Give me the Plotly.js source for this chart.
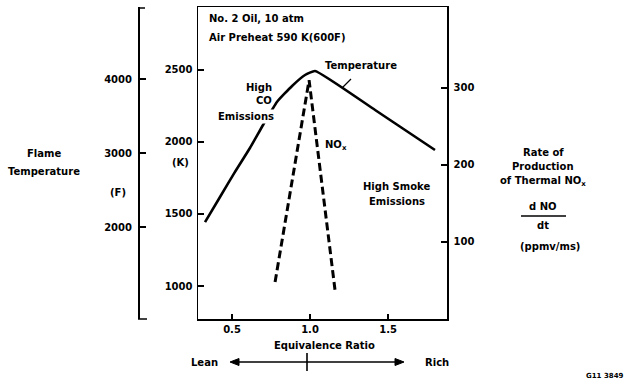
<!DOCTYPE html>
<html>
<head>
<meta charset="utf-8">
<script src="https://cdn.plot.ly/plotly-3.0.1.min.js"></script>
<style>html,body{margin:0;padding:0;background:#fff;}#chart{width:628px;height:380px;}</style>
</head>
<body>
<div id="chart"></div>
<script>
// ---- data ----
const phiTemp = [0.327, 0.423, 0.519, 0.615, 0.699, 0.788, 0.885, 0.968, 1.032, 1.417, 1.801];
const tempK   = [1444, 1618, 1792, 1958, 2118, 2278, 2389, 2465, 2493, 2222, 1944];
const phiNO   = [0.776, 0.994, 1.160];
const noRate  = [48, 310, 38];
const xTicks  = [0.5, 1.0, 1.5];
const xTickText = ['0.5', '1.0', '1.5'];
const kTicks  = [1000, 1500, 2000, 2500];
const fTicks  = [2000, 3000, 4000];
const rTicks  = [100, 200, 300];

// ---- layout helpers (pixel -> paper) ----
const L = 100, R = 447, T = 7, B = 319;
const px = v => (v - L) / (R - L);
const py = v => (B - v) / (B - T);
const FONT = {family: 'DejaVu Sans', size: 10, color: '#000', weight: 'bold'};

function txt(x, y, text, xanchor, extra) {
  return Object.assign({xref: 'paper', yref: 'paper', x: px(x), y: py(y), text: text,
    showarrow: false, xanchor: xanchor || 'center', yanchor: 'middle', font: FONT}, extra || {});
}
function ln(x0, y0, x1, y1, w) {
  return {type: 'line', xref: 'paper', yref: 'paper', x0: px(x0), y0: py(y0), x1: px(x1), y1: py(y1),
    line: {color: '#000', width: w || 1.5}};
}
function tri(pts) {
  const d = 'M ' + pts.map(p => px(p[0]) + ',' + py(p[1])).join(' L ') + ' Z';
  return {type: 'path', xref: 'paper', yref: 'paper', path: d, fillcolor: '#000',
    line: {color: '#000', width: 1}};
}

const traces = [
  {x: phiTemp, y: tempK, mode: 'lines', line: {color: '#000', width: 2.6, shape: 'spline', smoothing: 0.4},
   xaxis: 'x', yaxis: 'y', hoverinfo: 'skip', showlegend: false},
  {x: phiNO, y: noRate, mode: 'lines', line: {color: '#000', width: 3, dash: '8px,4px'},
   xaxis: 'x', yaxis: 'y2', hoverinfo: 'skip', showlegend: false},
  {x: [], y: [], xaxis: 'x', yaxis: 'y3', hoverinfo: 'skip', showlegend: false}
];

const axBase = {showgrid: false, zeroline: false, showline: true, linecolor: '#000', linewidth: 1.5,
  ticks: 'inside', ticklen: 6, tickwidth: 1.5, tickcolor: '#000', tickfont: FONT, fixedrange: true};

const layout = {
  width: 628, height: 380,
  margin: {l: L, r: 628 - R, t: T, b: 380 - B, pad: 0},
  paper_bgcolor: '#fff', plot_bgcolor: '#fff',
  font: FONT,
  showlegend: false,
  xaxis: Object.assign({}, axBase, {domain: [px(198), 1], range: [0.282, 1.878],
    tickvals: xTicks, ticktext: xTickText, mirror: true, ticklen: 5}),
  yaxis: Object.assign({}, axBase, {range: [771, 2937], tickvals: kTicks, mirror: true,
    ticklabelstandoff: 2}),
  yaxis2: Object.assign({}, axBase, {range: [0, 405], tickvals: rTicks, overlaying: 'y',
    side: 'right', anchor: 'x', ticklabelstandoff: 3}),
  yaxis3: Object.assign({}, axBase, {range: [757, 4973], tickvals: fTicks, overlaying: 'y',
    side: 'left', anchor: 'free', position: px(138), ticklabelstandoff: 4}),
  shapes: [
    ln(138, 8, 145, 8), ln(138, 319, 147, 319),
    ln(351, 79, 342, 88, 1.3),
    ln(234, 362, 398, 362, 1.3),
    tri([[230, 362], [239, 358.5], [239, 365.5]]),
    tri([[404, 362], [395, 358.5], [395, 365.5]]),
    ln(307, 353, 307, 371, 1.6),
    ln(521, 216, 566, 216, 1.3)
  ],
  annotations: [
    txt(207, 19, 'No. 2 Oil, 10 atm', 'left'),
    txt(207, 38, 'Air Preheat 590 K(600F)', 'left'),
    txt(323, 65, 'Temperature', 'left'),
    txt(274, 87, 'High', 'right'),
    txt(274, 100, 'CO', 'right'),
    txt(276, 117, 'Emissions', 'right', {bgcolor: '#fff'}),
    txt(323, 145, 'NO<sub>x</sub>', 'left'),
    txt(396, 186, 'High Smoke', 'center'),
    txt(397, 201, 'Emissions', 'center'),
    txt(44, 153, 'Flame', 'center'),
    txt(44, 171, 'Temperature', 'center'),
    txt(118, 192, '(F)', 'center'),
    txt(180, 162, '(K)', 'center'),
    txt(543, 152, 'Rate of', 'center'),
    txt(543, 166, 'Production', 'center'),
    txt(543, 181, 'of Thermal NO<sub>x</sub>', 'center'),
    txt(543, 207, 'd NO', 'center'),
    txt(543, 225, 'dt', 'center'),
    txt(550, 247, '(ppmv/ms)', 'center'),
    txt(324, 345, 'Equivalence Ratio', 'center'),
    txt(204, 362, 'Lean', 'center'),
    txt(437, 362, 'Rich', 'center'),
    txt(605, 376, 'G11 3849', 'center', {font: Object.assign({}, FONT, {size: 7})})
  ]
};

Plotly.newPlot('chart', traces, layout, {staticPlot: true, displayModeBar: false});
</script>
</body>
</html>
